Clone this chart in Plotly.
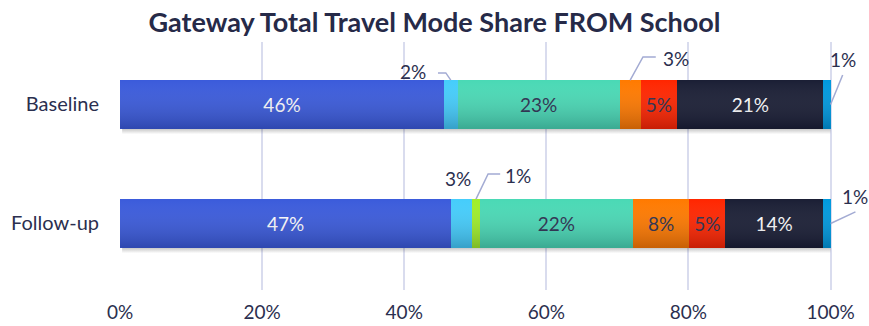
import plotly.graph_objects as go

# Survey periods (top to bottom) and travel modes (left to right)
periods = ["Baseline", "Follow-up"]
modes = ["Walk", "Scooter", "Bike", "Car", "Car share", "Park & stride", "Bus", "Other"]

# Mode share, percent of trips from school
baseline_share = [45.6, 1.9, 0.0, 22.8, 3.0, 5.1, 20.6, 1.0]
followup_share = [46.6, 3.0, 1.0, 21.6, 7.9, 5.1, 13.7, 1.1]

x_ticks = [0, 20, 40, 60, 80, 100]
x_tick_labels = ["0%", "20%", "40%", "60%", "80%", "100%"]

colors = ["#3b5bdb", "#45cdfb", "#a0ee2a", "#4ad9b5", "#ff7a00", "#ff2600", "#1b1f35", "#0099dd"]
label_colors = ["#ffffff", "#2b2f4f", "#2b2f4f", "#2b2f4f", "#2b2f4f", "#2b2f4f", "#ffffff", "#2b2f4f"]

TEXT = "#2b2f4f"
LEADER = "#a3abd3"
FONT = "Lato"
BAR_W = 0.41
SHADOW_H = 0.045
MIN_INSIDE = 4  # smaller segments get an outside label

# numeric row position of each period (top row has the larger value)
ypos = {"Baseline": 1, "Follow-up": 0}
rows = [ypos[p] for p in periods]
shares_by_period = {"Baseline": baseline_share, "Follow-up": followup_share}

fig = go.Figure()
for i, mode in enumerate(modes):
    vals = [shares_by_period[p][i] for p in periods]
    texts = [f"{round(v)}%" if v >= MIN_INSIDE else "" for v in vals]
    fig.add_trace(go.Bar(
        name=mode,
        y=rows,
        x=vals,
        orientation="h",
        width=BAR_W,
        marker=dict(color=colors[i], line=dict(width=0)),
        text=texts,
        textposition="inside",
        insidetextanchor="middle",
        insidetextfont=dict(family=FONT, size=19, color=label_colors[i]),
        customdata=periods,
        hovertemplate="%{customdata}<br>" + mode + ": %{x:.1f}%<extra></extra>",
    ))

# soft vertical shading over each bar and a faint shadow underneath
for p in periods:
    yc = ypos[p]
    total = sum(shares_by_period[p])
    top, bot = yc + BAR_W / 2, yc - BAR_W / 2
    fig.add_trace(go.Scatter(
        x=[0, total, total, 0, 0], y=[bot, bot, top, top, bot],
        mode="lines", line=dict(width=0), fill="toself",
        fillgradient=dict(type="vertical", start=bot, stop=top,
                          colorscale=[[0, "rgba(0,0,20,0.22)"], [1, "rgba(255,255,255,0.0)"]]),
        hoverinfo="skip", showlegend=False,
    ))
    fig.add_trace(go.Scatter(
        x=[0.3, total, total, 0.3, 0.3], y=[bot - SHADOW_H, bot - SHADOW_H, bot, bot, bot - SHADOW_H],
        mode="lines", line=dict(width=0), fill="toself",
        fillgradient=dict(type="vertical", start=bot - SHADOW_H, stop=bot,
                          colorscale=[[0, "rgba(0,0,0,0)"], [1, "rgba(0,0,0,0.22)"]]),
        hoverinfo="skip", showlegend=False,
    ))


def seg_bounds(shares, idx):
    start = sum(shares[:idx])
    return start, start + shares[idx]


def outside_label(period, idx, path_offsets, text_offset, anchor="mid"):
    """Leader line (offsets from the segment anchor) plus a label."""
    shares = shares_by_period[period]
    yc = ypos[period]
    lo, hi = seg_bounds(shares, idx)
    if anchor == "mid":
        x0, y0 = (lo + hi) / 2, yc + BAR_W / 2
    else:  # right edge, mid height
        x0, y0 = hi, yc
    if path_offsets:
        pts = [(x0, y0)] + [(x0 + dx, yc + dy) for dx, dy in path_offsets]
        path = "M " + " L ".join(f"{px},{py}" for px, py in pts)
        fig.add_shape(type="path", path=path, xref="x", yref="y",
                      line=dict(color=LEADER, width=1.5), layer="above")
    fig.add_annotation(x=x0 + text_offset[0], y=yc + text_offset[1], xref="x", yref="y",
                       text=f"{round(shares[idx])}%", showarrow=False,
                       font=dict(family=FONT, size=19, color=TEXT))


# Baseline small segments
outside_label("Baseline", 1, [(-0.7, 0.265), (-1.8, 0.265)], (-5.3, 0.273))
outside_label("Baseline", 4, [(1.8, 0.40), (3.6, 0.40)], (6.5, 0.39))
outside_label("Baseline", 7, [(1.7, 0.248)], (1.7, 0.374), anchor="edge")
# Follow-up small segments
outside_label("Follow-up", 1, [], (-0.6, 0.382))
outside_label("Follow-up", 2, [(1.7, 0.416), (3.4, 0.416)], (5.9, 0.40))
outside_label("Follow-up", 7, [(3.5, 0.097)], (3.4, 0.23), anchor="edge")

fig.update_layout(
    barmode="stack",
    width=869, height=326,
    margin=dict(l=120, r=10, t=42, b=36, autoexpand=False),
    paper_bgcolor="white", plot_bgcolor="white",
    showlegend=False,
    title=dict(text="<b>Gateway Total Travel Mode Share FROM School</b>",
               x=0.5, xanchor="center", y=1 - 23 / 326, yanchor="middle",
               font=dict(family=FONT, size=27, color="#262a48")),
    font=dict(family=FONT, color=TEXT),
)
fig.update_xaxes(range=[0, 104], tickvals=x_ticks, ticktext=x_tick_labels,
                 showgrid=True, gridcolor="#d9dcee", gridwidth=1.5, zeroline=False,
                 showline=False, ticks="", ticklabelstandoff=9, automargin=False,
                 tickfont=dict(family=FONT, size=19, color=TEXT))
fig.update_yaxes(range=[-0.559, 1.525], tickvals=[ypos[p] for p in periods], ticktext=periods,
                 showgrid=False, zeroline=False, showline=False,
                 ticks="", ticklabelstandoff=20, automargin=False,
                 tickfont=dict(family=FONT, size=20, color=TEXT))

fig.write_html("out.html")
